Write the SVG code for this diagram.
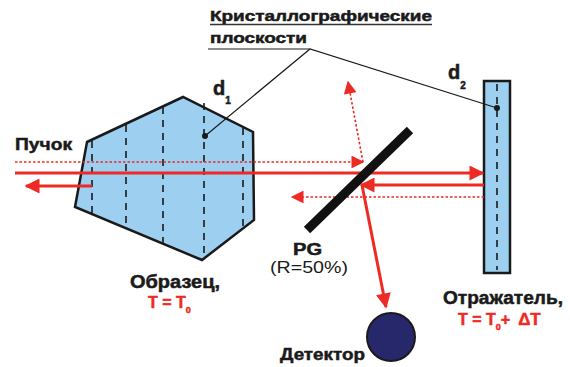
<svg xmlns="http://www.w3.org/2000/svg" width="570" height="367" viewBox="0 0 570 367">
  <style>
    .lbl { font-family: "Liberation Sans", Arial, sans-serif; font-weight: bold; fill: #1a1a1a; stroke: #1a1a1a; stroke-width: 0.5; }
    .red { fill: #ee2a24; stroke: #ee2a24; }
    .thin { font-family: "Liberation Sans", Arial, sans-serif; fill: #1a1a1a; }
    .beam { stroke: #ee2a24; stroke-width: 3; fill: none; }
    .dot { stroke: #ee2a24; stroke-width: 1.6; stroke-dasharray: 2.5 2; fill: none; }
    .plane { stroke: #1a1a1a; stroke-width: 1.6; stroke-dasharray: 7 6; fill: none; }
    .lead { stroke: #1a1a1a; stroke-width: 1.2; fill: none; }
    .crystal { fill: #9dcff0; stroke: #1a1a1a; stroke-width: 2.5; stroke-linejoin: miter; }
  </style>
  <defs>
    <marker id="ah" viewBox="0 0 10 10" refX="9" refY="5" markerWidth="7" markerHeight="5" markerUnits="strokeWidth" orient="auto">
      <path d="M0,0 L10,5 L0,10 Z" fill="#ee2a24"/>
    </marker>
    <marker id="ahs" viewBox="0 0 10 10" refX="9" refY="5" markerWidth="9" markerHeight="8" markerUnits="strokeWidth" orient="auto">
      <path d="M0,0 L10,5 L0,10 Z" fill="#ee2a24"/>
    </marker>
  </defs>

  <!-- sample crystal -->
  <g id="sample">
    <polygon class="crystal" points="87,142 183,97 253,132 254,220 202,260 75,207"/>
    <line class="plane" x1="92" y1="141" x2="92" y2="215"/>
    <line class="plane" x1="126" y1="125" x2="126" y2="229"/>
    <line class="plane" x1="163" y1="107" x2="163" y2="245"/>
    <line class="plane" x1="204" y1="103" x2="204" y2="256"/>
    <line class="plane" x1="243" y1="128" x2="243" y2="227"/>
    <circle cx="205" cy="136" r="3" fill="#1a1a1a"/>
  </g>

  <!-- reflector crystal -->
  <g id="reflector">
    <rect class="crystal" x="484" y="81" width="26" height="192" stroke-width="2"/>
    <line class="plane" x1="497" y1="84" x2="497" y2="270"/>
    <circle cx="497" cy="108" r="3" fill="#1a1a1a"/>
  </g>

  <!-- detector -->
  <g id="detector">
    <circle cx="391" cy="337" r="24" fill="#27286b" stroke="#1a1a1a" stroke-width="2"/>
  </g>

  <!-- beams -->
  <g id="connectors">
    <line class="beam" x1="15" y1="173" x2="483" y2="173" marker-end="url(#ah)"/>
    <line class="dot" x1="15" y1="162" x2="363" y2="162" marker-end="url(#ahs)"/>
    <line class="dot" x1="363" y1="162" x2="348" y2="82" marker-end="url(#ahs)"/>
    <line class="beam" x1="484" y1="185" x2="361" y2="185" marker-end="url(#ah)"/>
    <line class="dot" x1="484" y1="197" x2="292" y2="197" marker-end="url(#ahs)"/>
    <line class="beam" x1="362" y1="185" x2="386" y2="307" marker-end="url(#ah)"/>
    <line class="beam" x1="92" y1="186" x2="26" y2="186" marker-end="url(#ah)"/>
    <!-- leader lines to the planes -->
    <line class="lead" x1="208" y1="49" x2="310" y2="49"/>
    <polyline class="lead" points="205,136 310,49 497,108"/>
  </g>

  <!-- partial mirror -->
  <g id="pg">
    <line x1="307" y1="230" x2="410" y2="130" stroke="#111" stroke-width="9"/>
  </g>

  <!-- labels -->
  <g id="labels">
    <text class="lbl" x="210" y="21" font-size="15" textLength="222" lengthAdjust="spacingAndGlyphs">Кристаллографические</text>
    <line x1="210" y1="24.5" x2="432" y2="24.5" stroke="#333" stroke-width="1.3"/>
    <text class="lbl" x="210" y="43" font-size="15" textLength="97" lengthAdjust="spacingAndGlyphs">плоскости</text>
    <text class="lbl" x="15" y="150" font-size="17" textLength="57" lengthAdjust="spacingAndGlyphs">Пучок</text>
    <text class="lbl" x="213" y="95" font-size="20">d<tspan font-size="10" dx="0" dy="9">1</tspan></text>
    <text class="lbl" x="448" y="79" font-size="20">d<tspan font-size="10" dy="10">2</tspan></text>
    <text class="lbl" x="293" y="255" font-size="16" textLength="29" lengthAdjust="spacingAndGlyphs">PG</text>
    <text class="thin" x="270" y="273" font-size="16" textLength="78" lengthAdjust="spacingAndGlyphs">(R=50%)</text>
    <text class="lbl" x="130" y="288" font-size="18" textLength="90" lengthAdjust="spacingAndGlyphs">Образец,</text>
    <text class="lbl red" x="148" y="308" font-size="16">T = T<tspan font-size="9" dy="5">0</tspan></text>
    <text class="lbl" x="280" y="360" font-size="17" textLength="85" lengthAdjust="spacingAndGlyphs">Детектор</text>
    <text class="lbl" x="443" y="304" font-size="18" textLength="120" lengthAdjust="spacingAndGlyphs">Отражатель,</text>
    <text class="lbl red" x="458" y="325" font-size="16">T = T<tspan font-size="9" dy="5">0</tspan><tspan dy="-5">+</tspan><tspan dx="8" font-size="17">ΔT</tspan></text>
  </g>
</svg>
